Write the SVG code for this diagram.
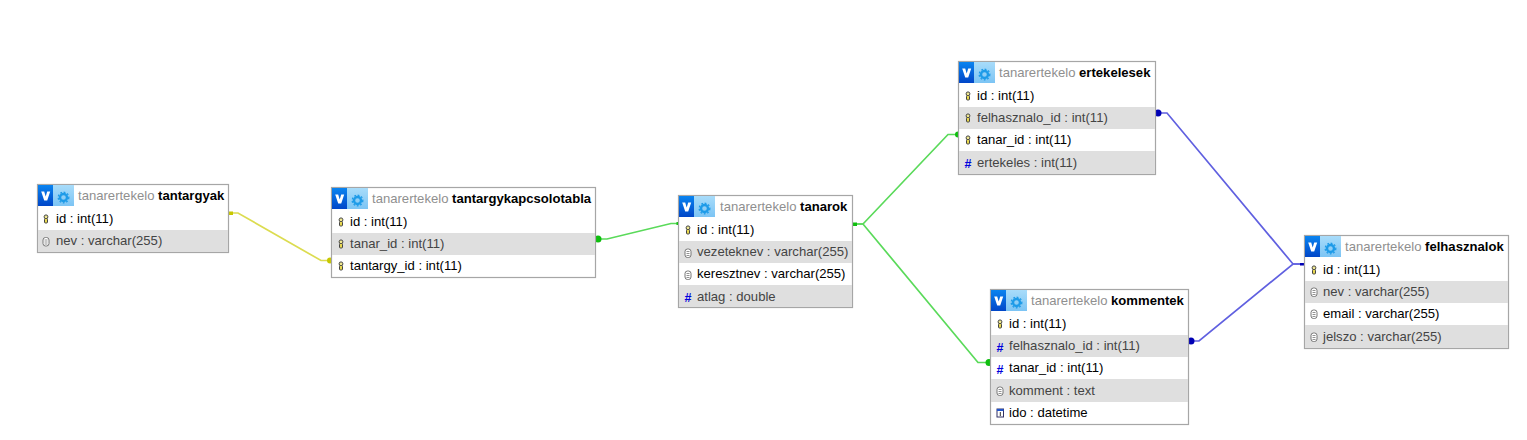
<svg xmlns="http://www.w3.org/2000/svg" width="1527" height="440" viewBox="0 0 1527 440">
<style>
text{font-family:"Liberation Sans",Arial,sans-serif;font-size:13.1px;fill:#000}
.box{fill:#fff;stroke:#a6a6a6;stroke-width:1.2}
.alt{fill:#dfdfdf}
.altt{fill:#444}
.db{fill:#8f8f8f}
.tb{font-weight:bold}
.c{fill:none;stroke-width:1.7}
.g{stroke:#5ada5a}.gd{fill:#0ebe0e}
.b{stroke:#6060e0}.bd{fill:#0000b4}
.y{stroke:#dcdc50}.yd{fill:#c8c800}
.hash{font-size:12.5px;font-weight:bold;fill:#00d}
</style>
<defs>
<linearGradient id="vg" x1="0" y1="0" x2="0" y2="1"><stop offset="0" stop-color="#0a84f0"/><stop offset="1" stop-color="#0046c8"/></linearGradient>
<linearGradient id="sg" x1="0" y1="0" x2="0" y2="1"><stop offset="0" stop-color="#a8dcfa"/><stop offset="1" stop-color="#7cc4f4"/></linearGradient>
<g id="hd">
<rect x="0" y="0" width="15" height="21" fill="url(#vg)"/>
<rect x="15" y="0" width="21" height="21" fill="url(#sg)"/>
<path d="M3.200 6.500h3l1.500 5 1.500-5h3l-3 9h-3z" fill="#fff"/>
<circle cx="25.500" cy="12.500" r="3.500" fill="none" stroke="#1e9be8" stroke-width="2.400"/>
<circle cx="25.500" cy="12.500" r="5.300" fill="none" stroke="#1e9be8" stroke-width="1.300" stroke-dasharray="1.800 1.700"/>
</g>
<g id="key">
<circle cx="0" cy="-2.200" r="1.900" fill="#f0e890" stroke="#444" stroke-width="1"/>
<rect x="-1.500" y="-0.500" width="3" height="4.500" rx="1" fill="#e8d850" stroke="#444" stroke-width="1"/>
</g>
<g id="vc">
<rect x="-3" y="-4" width="6" height="8.500" rx="2.500" fill="#fff" stroke="#777" stroke-width="1"/>
<path d="M-1.500-1.500h3M-1.500 .5h3M-1.500 2.500h3" stroke="#777" stroke-width=".8"/>
</g>
<g id="dt">
<rect x="-3" y="-4" width="6.500" height="8" fill="#fff" stroke="#336" stroke-width="1"/>
<rect x="-3" y="-4" width="6.500" height="2" fill="#25c"/>
<path d="M.3-1v4" stroke="#333" stroke-width="1"/>
</g>
</defs>

<g id="connectors">
<path class="c y" d="M231 213H238L321 260.500H329"/>
<path class="c g" d="M599 239H607L671 223.500H678"/>
<path class="c g" d="M853 224H863L948 134.500H958"/>
<path class="c g" d="M853 224H863L978 362.500H988"/>
<path class="c b" d="M1159 113H1167L1293 264H1304"/>
<path class="c b" d="M1192 341H1199L1293 264H1304"/>
<rect class="yd" x="229" y="211.500" width="4" height="3.500"/>
<circle class="yd" cx="330" cy="260.500" r="3"/>
<circle class="gd" cx="598" cy="239" r="3.500"/>
<rect class="gd" x="676.500" y="222" width="2" height="3"/>
<rect class="gd" x="853" y="222.500" width="4" height="3.500"/>
<circle class="gd" cx="958" cy="134.500" r="3"/>
<circle class="gd" cx="989" cy="362.500" r="3.500"/>
<circle class="bd" cx="1158" cy="113" r="3.500"/>
<circle class="bd" cx="1191" cy="341" r="3.500"/>
<rect class="bd" x="1300" y="263" width="5" height="2.500"/>
</g>

<g id="tantargyak">
<rect class="box" x="37.500" y="184.500" width="191" height="68"/>
<rect class="alt" x="38" y="230" width="190" height="22"/>
<use href="#hd" x="38" y="185"/>
<text x="78" y="200"><tspan class="db">tanarertekelo</tspan> <tspan class="tb">tantargyak</tspan></text>
<use href="#key" x="46" y="219"/><text x="56" y="223">id : int(11)</text>
<use href="#vc" x="46" y="241.500"/><text class="altt" x="56" y="245">nev : varchar(255)</text>
</g>

<g id="tantargykapcsolotabla">
<rect class="box" x="331.500" y="187.500" width="264" height="90"/>
<rect class="alt" x="332" y="233" width="263" height="22"/>
<use href="#hd" x="332" y="188"/>
<text x="372" y="203"><tspan class="db">tanarertekelo</tspan> <tspan class="tb">tantargykapcsolotabla</tspan></text>
<use href="#key" x="341" y="222"/><text x="350" y="226">id : int(11)</text>
<use href="#key" x="341" y="244"/><text class="altt" x="350" y="248">tanar_id : int(11)</text>
<use href="#key" x="341" y="266"/><text x="350" y="270">tantargy_id : int(11)</text>
</g>

<g id="tanarok">
<rect class="box" x="678.500" y="195.500" width="174" height="112"/>
<rect class="alt" x="679" y="241" width="173" height="22"/>
<rect class="alt" x="679" y="285" width="173" height="22"/>
<use href="#hd" x="679" y="196"/>
<text x="720" y="211"><tspan class="db">tanarertekelo</tspan> <tspan class="tb">tanarok</tspan></text>
<use href="#key" x="688" y="230"/><text x="697" y="234">id : int(11)</text>
<use href="#vc" x="688" y="253"/><text class="altt" x="697" y="256">vezeteknev : varchar(255)</text>
<use href="#vc" x="688" y="275"/><text x="697" y="278">keresztnev : varchar(255)</text>
<text class="hash" x="684.500" y="302">#</text><text class="altt" x="697" y="301">atlag : double</text>
</g>

<g id="ertekelesek">
<rect class="box" x="958.500" y="61.500" width="197" height="113"/>
<rect class="alt" x="959" y="107" width="196" height="22"/>
<rect class="alt" x="959" y="151" width="196" height="23"/>
<use href="#hd" x="959" y="62"/>
<text x="999" y="77"><tspan class="db">tanarertekelo</tspan> <tspan class="tb">ertekelesek</tspan></text>
<use href="#key" x="968" y="96"/><text x="977" y="100">id : int(11)</text>
<use href="#key" x="968" y="118"/><text class="altt" x="977" y="122">felhasznalo_id : int(11)</text>
<use href="#key" x="968" y="140"/><text x="977" y="144">tanar_id : int(11)</text>
<text class="hash" x="964.500" y="168">#</text><text class="altt" x="977" y="167">ertekeles : int(11)</text>
</g>

<g id="kommentek">
<rect class="box" x="990.500" y="289.500" width="198" height="135"/>
<rect class="alt" x="991" y="335" width="197" height="22"/>
<rect class="alt" x="991" y="379" width="197" height="23"/>
<use href="#hd" x="991" y="290"/>
<text x="1031" y="305"><tspan class="db">tanarertekelo</tspan> <tspan class="tb">kommentek</tspan></text>
<use href="#key" x="1000" y="324"/><text x="1009" y="328">id : int(11)</text>
<text class="hash" x="996.500" y="352">#</text><text class="altt" x="1009" y="350">felhasznalo_id : int(11)</text>
<text class="hash" x="996.500" y="374">#</text><text x="1009" y="372">tanar_id : int(11)</text>
<use href="#vc" x="1000" y="391"/><text class="altt" x="1009" y="395">komment : text</text>
<use href="#dt" x="1000" y="413"/><text x="1009" y="417">ido : datetime</text>
</g>

<g id="felhasznalok">
<rect class="box" x="1304.500" y="235.500" width="204" height="113"/>
<rect class="alt" x="1305" y="281" width="203" height="22"/>
<rect class="alt" x="1305" y="325" width="203" height="23"/>
<use href="#hd" x="1305" y="236"/>
<text x="1345" y="251"><tspan class="db">tanarertekelo</tspan> <tspan class="tb">felhasznalok</tspan></text>
<use href="#key" x="1314" y="270"/><text x="1323" y="274">id : int(11)</text>
<use href="#vc" x="1314" y="292"/><text class="altt" x="1323" y="296">nev : varchar(255)</text>
<use href="#vc" x="1314" y="314"/><text x="1323" y="318">email : varchar(255)</text>
<use href="#vc" x="1314" y="337"/><text class="altt" x="1323" y="341">jelszo : varchar(255)</text>
</g>
</svg>
